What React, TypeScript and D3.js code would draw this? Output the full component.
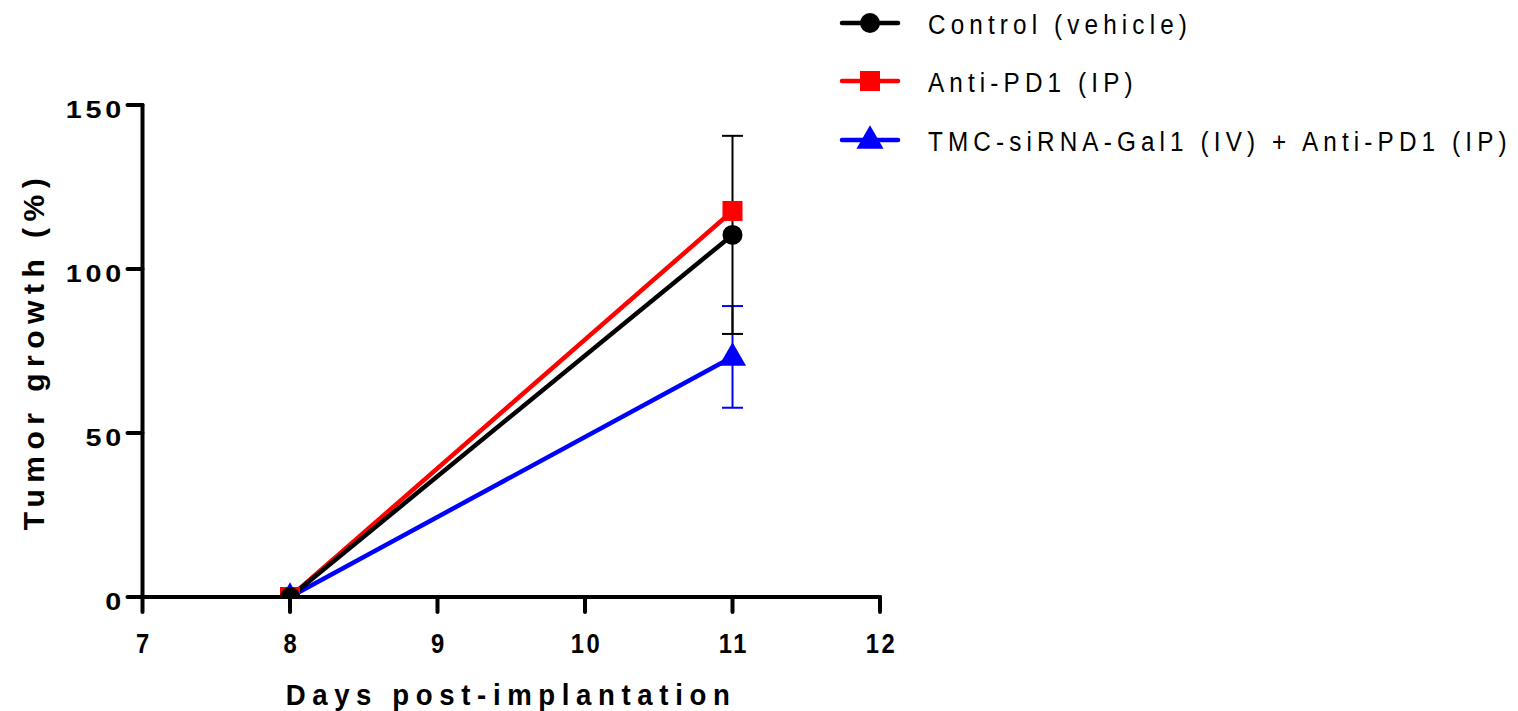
import React from "react";
import * as d3 from "d3";

const days = [8, 11];
const seriesNames = ["Control (vehicle)", "Anti-PD1 (IP)", "TMC-siRNA-Gal1 (IV) + Anti-PD1 (IP)"];
const controlMean = [0, 110.4];
const controlErr = [0, 30.2];
const antiMean = [0, 117.7];
const antiErr = [0, 0];
const comboMean = [0, 73.2];
const comboErr = [0, 15.5];
const xTicks = [7, 8, 9, 10, 11, 12];
const yTicks = [0, 50, 100, 150];
const xTitle = "Days post-implantation";
const yTitle = "Tumor growth (%)";

const FONT = "'Liberation Sans', Arial, Helvetica, sans-serif";

type Series = { name: string; mean: number[]; err: number[]; color: string; shape: "circle" | "square" | "triangle" };

export default function App() {
  const x = d3.scaleLinear().domain([7, 12]).range([142.5, 880]);
  const y = d3.scaleLinear().domain([0, 150]).range([597, 105]);

  const series: Series[] = [
    { name: seriesNames[0], mean: controlMean, err: controlErr, color: "#000000", shape: "circle" },
    { name: seriesNames[1], mean: antiMean, err: antiErr, color: "#ff0000", shape: "square" },
    { name: seriesNames[2], mean: comboMean, err: comboErr, color: "#0000ff", shape: "triangle" },
  ];
  const drawOrder = [series[2], series[1], series[0]];

  const line = d3
    .line<number>()
    .x((_, i) => x(days[i]))
    .y((d) => y(d));

  const marker = (s: Series, cx: number, cy: number, key: string) => {
    if (s.shape === "circle") return <circle key={key} cx={cx} cy={cy} r={10} fill={s.color} />;
    if (s.shape === "square")
      return <rect key={key} x={cx - 10} y={cy - 10} width={20} height={20} fill={s.color} />;
    const tri = d3.symbol(d3.symbolTriangle, 320)();
    return <path key={key} d={tri as string} transform={`translate(${cx},${cy + 1})`} fill={s.color} />;
  };

  const legendRows = [23, 81, 140];

  return (
    <svg
      width={1518}
      height={711}
      style={{ position: "absolute", left: 0, top: 0, background: "#fff" }}
      fontFamily={FONT}
    >
      <defs>
        <clipPath id="plot">
          <rect x={x(7)} y={0} width={x(12) - x(7) + 20} height={y(0)} />
        </clipPath>
      </defs>

      <g clipPath="url(#plot)">
        {/* error bars */}
        {drawOrder.map((s) =>
          days.map((d, i) =>
            s.err[i] > 0 ? (
              <g key={`e-${s.name}-${i}`} stroke={s.color} strokeWidth={2}>
                <line x1={x(d)} x2={x(d)} y1={y(s.mean[i] + s.err[i])} y2={y(s.mean[i] - s.err[i])} />
                <line x1={x(d) - 10.5} x2={x(d) + 10.5} y1={y(s.mean[i] + s.err[i])} y2={y(s.mean[i] + s.err[i])} />
                <line x1={x(d) - 10.5} x2={x(d) + 10.5} y1={y(s.mean[i] - s.err[i])} y2={y(s.mean[i] - s.err[i])} />
              </g>
            ) : null
          )
        )}

        {/* lines */}
        {drawOrder.map((s) => (
          <path key={`l-${s.name}`} d={line(s.mean) as string} fill="none" stroke={s.color} strokeWidth={4.5} />
        ))}

        {/* markers */}
        {drawOrder.map((s) => days.map((d, i) => marker(s, x(d), y(s.mean[i]), `m-${s.name}-${i}`)))}
      </g>

      {/* axes */}
      <g stroke="#000" strokeWidth={4} strokeLinecap="round">
        <line x1={x(7)} x2={x(12)} y1={y(0)} y2={y(0)} />
        <line x1={x(7)} x2={x(7)} y1={y(0)} y2={y(150)} />
        {xTicks.map((t) => (
          <line key={`xt${t}`} x1={x(t)} x2={x(t)} y1={y(0)} y2={y(0) + 15} />
        ))}
        {yTicks.map((t) => (
          <line key={`yt${t}`} x1={x(7)} x2={x(7) - 15} y1={y(t)} y2={y(t)} />
        ))}
      </g>

      {/* tick labels */}
      {xTicks.map((t) => (
        <text
          key={`xl${t}`}
          transform={`translate(${x(t) + 1.5},${653}) scale(0.88,1)`}
          textAnchor="middle"
          fontSize={27}
          fontWeight="bold"
          letterSpacing={3}
        >
          {t}
        </text>
      ))}
      {yTicks.map((t) => (
        <text
          key={`yl${t}`}
          transform={`translate(${125},${y(t) + 13}) scale(1.25,1)`}
          textAnchor="end"
          fontSize={23}
          fontWeight="bold"
          letterSpacing={3}
        >
          {t}
        </text>
      ))}

      {/* axis titles */}
      <text
        transform={`translate(511,705) scale(0.92,1)`}
        textAnchor="middle"
        fontSize={30}
        fontWeight="bold"
        letterSpacing={7.2}
      >
        {xTitle}
      </text>
      <text
        transform={`translate(44,${351}) rotate(-90)`}
        textAnchor="middle"
        fontSize={30}
        fontWeight="bold"
        letterSpacing={6.5}
      >
        {yTitle}
      </text>

      {/* legend */}
      {series.map((s, i) => (
        <g key={`lg-${s.name}`}>
          <line x1={842} x2={898} y1={legendRows[i]} y2={legendRows[i]} stroke={s.color} strokeWidth={4.5} strokeLinecap="round" />
          {marker(s, 870, legendRows[i], `lm-${i}`)}
          <text
            transform={`translate(928,${legendRows[i] + 11}) scale(0.9,1)`}
            fontSize={27}
            letterSpacing={5.7}
          >
            {s.name}
          </text>
        </g>
      ))}
    </svg>
  );
}
